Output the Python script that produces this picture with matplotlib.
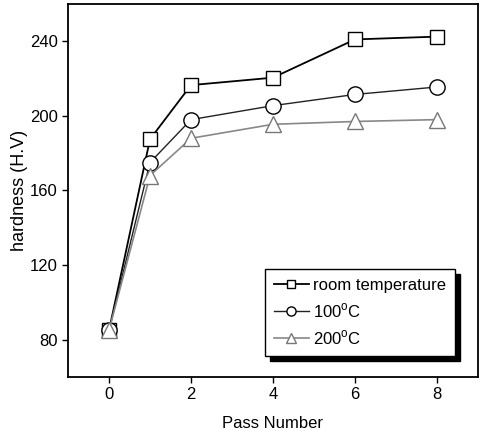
import matplotlib
matplotlib.use('Agg')
import matplotlib.pyplot as plt

# data
passes = [0, 1, 2, 4, 6, 8]
room_temp = [85, 187.5, 216.5, 220.5, 241, 242.5]
temp_100 = [85, 175, 198, 205.5, 211.5, 215.5]
temp_200 = [85, 168, 188, 195.5, 197, 198]

series_labels = ['room temperature', '100$^{\\mathrm{o}}$C', '200$^{\\mathrm{o}}$C']
xticks = [0, 2, 4, 6, 8]
yticks = [80, 120, 160, 200, 240]

plt.rcParams['font.family'] = ['Liberation Sans', 'DejaVu Sans']
plt.rcParams['mathtext.fontset'] = 'custom'
plt.rcParams['mathtext.rm'] = 'Liberation Sans'

fig = plt.figure(figsize=(4.8, 4.33), dpi=100)
ax = fig.add_axes([0.1417, 0.1293, 0.8541, 0.8615])

ax.plot(passes, room_temp, color='black', lw=1.3, marker='s', ms=10,
        mfc='white', mec='black', mew=1.0, label=series_labels[0])
ax.plot(passes, temp_100, color='#222222', lw=1.0, marker='o', ms=11,
        mfc='white', mec='black', mew=1.0, label=series_labels[1])
ax.plot(passes, temp_200, color='#888888', lw=1.2, marker='^', ms=11,
        mfc='white', mec='#777777', mew=1.0, label=series_labels[2])

ax.set_xlim(-1, 9)
ax.set_ylim(60, 260)
ax.set_xticks(xticks)
ax.set_yticks(yticks)
ax.tick_params(direction='out', length=4, width=1.0, labelsize=12)
for s in ax.spines.values():
    s.set_linewidth(1.3)

ax.set_xlabel('Pass Number', fontsize=12, labelpad=10)
ax.set_ylabel('hardness (H.V)', fontsize=13, labelpad=1)

leg = ax.legend(loc='lower right', bbox_to_anchor=(0.944, 0.056),
                fontsize=12, frameon=True, fancybox=False,
                shadow={'color': 'black', 'ox': 3.6, 'oy': -3.6, 'alpha': 1.0},
                edgecolor='black', handlelength=2.1, handletextpad=0.25,
                borderpad=0.55, labelspacing=0.5, markerscale=0.6,
                borderaxespad=0)
leg.get_frame().set_linewidth(1.0)
leg.get_frame().set_alpha(1.0)

fig.savefig('out.png', dpi=100)
